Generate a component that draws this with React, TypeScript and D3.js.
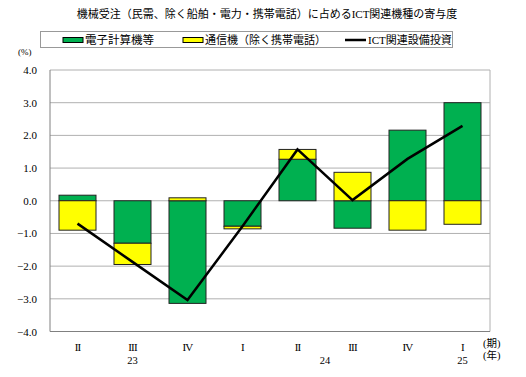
import React from "react";
import * as d3 from "d3";

const quarters = ["II", "III", "IV", "I", "II", "III", "IV", "I"];
const years = [
  { label: "23", pos: 1 },
  { label: "24", pos: 4.5 },
  { label: "25", pos: 7 },
];
const computers = [0.17, -1.3, -3.14, -0.78, 1.27, -0.84, 2.16, 3.0];
const telecom = [-0.9, -0.65, 0.09, -0.08, 0.3, 0.87, -0.9, -0.72];
const ictTotal = [-0.7, -1.87, -3.04, -0.78, 1.57, 0.02, 1.28, 2.29];
const yTicks = [4, 3, 2, 1, 0, -1, -2, -3, -4];

const GREEN = "#00B050";
const YELLOW = "#FFFF00";
const FONT = "'Liberation Serif', 'Noto Sans CJK JP', serif";

export default function App() {
  const W = 526, H = 377;
  const left = 50, right = 490, top = 70, bottom = 331.5;
  const band = d3.scaleBand<number>().domain(d3.range(8)).range([left, right]);
  const xc = (i: number) => (band(Math.floor(i)) as number) + band.bandwidth() * (0.5 + (i - Math.floor(i)));
  const y = d3.scaleLinear().domain([-4, 4]).range([bottom, top]);
  const bw = 37;

  const segs: { i: number; y0: number; y1: number; color: string }[] = [];
  computers.forEach((c, i) => {
    const t = telecom[i];
    let pos = 0, neg = 0;
    [[c, GREEN], [t, YELLOW]].forEach(([v, col]) => {
      const val = v as number;
      if (val >= 0) { segs.push({ i, y0: pos, y1: pos + val, color: col as string }); pos += val; }
      else { segs.push({ i, y0: neg, y1: neg + val, color: col as string }); neg += val; }
    });
  });

  const line = d3.line<number>().x((_, i) => xc(i)).y((d) => y(d));

  return (
    <svg width={W} height={H} style={{ position: "absolute", left: 0, top: 0 }} fontFamily={FONT}>
      <rect width={W} height={H} fill="#fff" />
      <text x={267} y={18} textAnchor="middle" fontSize={11}>
        機械受注（民需、除く船舶・電力・携帯電話）に占めるICT関連機種の寄与度
      </text>
      {/* legend */}
      <rect x={40.5} y={31.5} width={412} height={16} fill="#fff" stroke="#999" />
      <rect x={63} y={37.5} width={20} height={5} fill={GREEN} stroke="#000" strokeWidth={1} />
      <text x={85} y={44} fontSize={11.5}>電子計算機等</text>
      <rect x={183} y={37.5} width={20} height={5} fill={YELLOW} stroke="#000" strokeWidth={1} />
      <text x={205} y={44} fontSize={11}>通信機（除く携帯電話）</text>
      <line x1={345} x2={366} y1={40} y2={40} stroke="#000" strokeWidth={2.5} />
      <text x={368} y={44} fontSize={11}>ICT関連設備投資</text>
      <text x={18} y={55} fontSize={9}>(%)</text>

      {yTicks.map((t) => (
        <line key={t} x1={left} x2={right} y1={y(t)} y2={y(t)} stroke="#b0b0b0" strokeWidth={1} />
      ))}
      {yTicks.map((t) => (
        <text key={"l" + t} x={37} y={y(t) + 4} textAnchor="end" fontSize={11}>
          {t < 0 ? "\u2212" + Math.abs(t).toFixed(1) : t.toFixed(1)}
        </text>
      ))}
      <line x1={left} x2={left} y1={top} y2={bottom} stroke="#808080" />
      <line x1={right} x2={right} y1={top} y2={bottom} stroke="#b0b0b0" />
      <line x1={left} x2={right} y1={bottom} y2={bottom} stroke="#808080" />

      {segs.map((s, k) => (
        <rect
          key={k}
          x={xc(s.i) - bw / 2}
          y={y(Math.max(s.y0, s.y1))}
          width={bw}
          height={Math.abs(y(s.y0) - y(s.y1))}
          fill={s.color}
          stroke="#222"
          strokeWidth={1}
        />
      ))}
      <path d={line(ictTotal) || ""} fill="none" stroke="#000" strokeWidth={2.5} />

      {quarters.map((q, i) => (
        <text key={i} x={xc(i)} y={351} textAnchor="middle" fontSize={11} letterSpacing={-0.8}>{q}</text>
      ))}
      {years.map((yv) => (
        <text key={yv.label} x={xc(yv.pos)} y={364} textAnchor="middle" fontSize={10.5}>{yv.label}</text>
      ))}
      <text x={483} y={347} fontSize={10.5}>(期)</text>
      <text x={483} y={359} fontSize={10.5}>(年)</text>
    </svg>
  );
}
